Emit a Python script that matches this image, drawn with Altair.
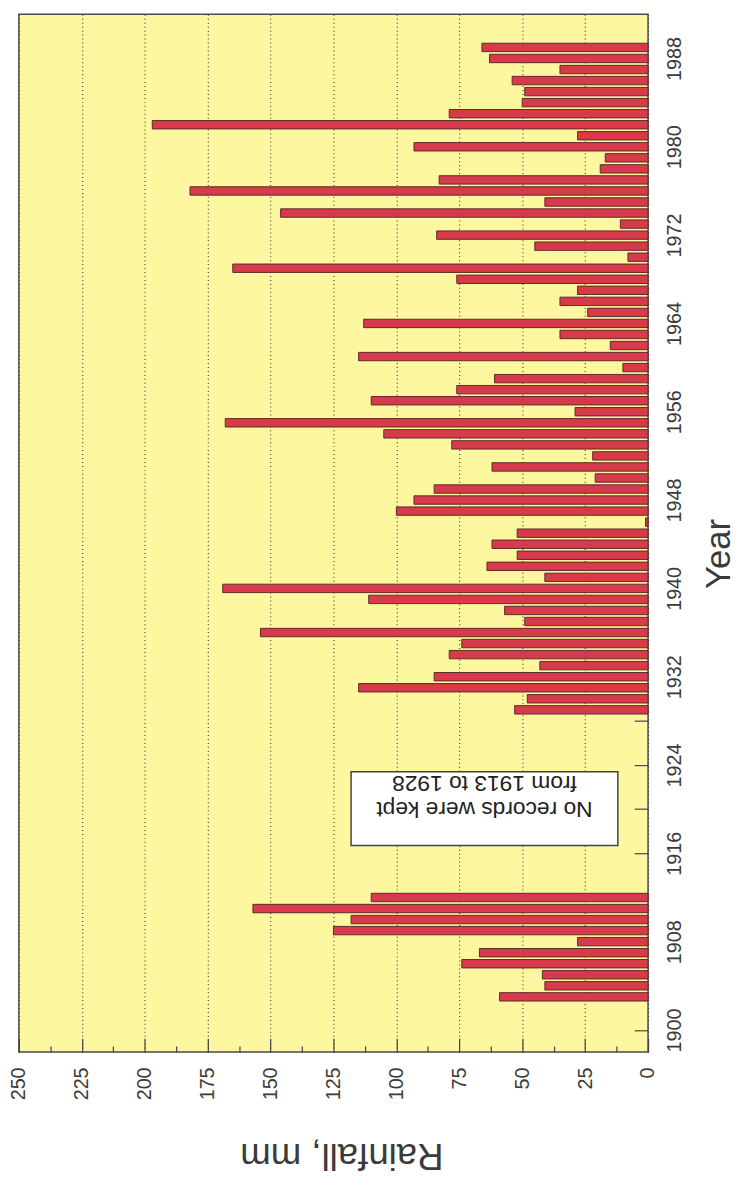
import altair as alt
import pandas as pd

# ---- data ----
years_early = [1903, 1904, 1905, 1906, 1907, 1908, 1909, 1910, 1911, 1912]
rain_early = [59, 41, 42, 74, 67, 28, 125, 118, 157, 110]

years_late = list(range(1929, 1990))
rain_late = [
    53, 48, 115, 85, 43, 79, 74, 154, 49, 57,     # 1929-1938
    111, 169, 41, 64, 52, 62, 52, 1, 100, 93,     # 1939-1948
    85, 21, 62, 22, 78, 105, 168, 29, 110, 76,    # 1949-1958
    61, 10, 115, 15, 35, 113, 24, 35, 28, 76,     # 1959-1968
    165, 8, 45, 84, 11, 146, 41, 182, 83, 19,     # 1969-1978
    17, 93, 28, 197, 79, 50, 49, 54, 35, 63, 66,  # 1979-1989
]

rain_ticks = [0, 25, 50, 75, 100, 125, 150, 175, 200, 225, 250]
rain_minor_ticks = [12.5, 37.5, 62.5, 87.5, 112.5, 137.5, 162.5, 187.5, 212.5, 237.5]
year_ticks = list(range(1900, 1989, 4))
note_lines = ["No records were kept", "from 1913 to 1928"]

df = pd.DataFrame({"year": years_early + years_late, "rain": rain_early + rain_late})

FONT = "Liberation Sans"
TXT = "#3b3b3b"
BAR = "#d73a4a"
BAR_EDGE = "#5e2a2a"

x_scale = alt.Scale(domain=[0, 250], reverse=True, nice=False)
y_scale = alt.Scale(domain=[1898, 1992], nice=False, zero=False)

x_axis_major = alt.Axis(
    orient="bottom", values=rain_ticks, tickSize=14, offset=-14, tickColor="#444",
    tickWidth=1.2, domain=False, grid=True, gridColor="#444", gridDash=[1, 3],
    gridWidth=1.2, labelAngle=270, labelAlign="right", labelBaseline="middle",
    labelPadding=15, labelFontSize=20, labelColor=TXT, labelFont=FONT,
    labelOverlap=False, labelFlush=False, labelBound=False, title="Rainfall, mm",
    titleFont=FONT, titleFontSize=37, titleFontWeight="normal", titleColor=TXT,
    titleAngle=180, titleAlign="center", titleBaseline="middle", titleX=326,
    titleY=117, zindex=0,
)
x_axis_minor = alt.Axis(
    orient="bottom", values=rain_minor_ticks, tickSize=6, offset=-6, tickColor="#444",
    tickWidth=1.2, domain=False, grid=False, labels=False, title=None, zindex=0,
)
y_axis = alt.Axis(
    orient="right", values=year_ticks, format="d",
    labelExpr="datum.value % 8 == 0 ? '' : datum.label",
    tickSize=14, offset=-14, tickColor="#444", tickWidth=1.2, domain=False, grid=False,
    labelAngle=270, labelAlign="center", labelBaseline="top", labelPadding=17,
    labelFontSize=20, labelFont=FONT, labelColor=TXT, labelOverlap=False,
    labelFlush=False, labelBound=False, title="Year", titleFont=FONT, titleFontSize=35,
    titleFontWeight="normal", titleColor=TXT, titleAngle=270, titleAlign="center",
    titleBaseline="middle", titleX=85, titleY=545, zindex=0,
)

base = alt.Chart(df)

bars = base.transform_calculate(
    x0="0", y0="datum.year - 0.38", y1="datum.year + 0.38"
).mark_bar(fill=BAR, stroke=BAR_EDGE, strokeWidth=1).encode(
    x=alt.X("x0:Q", scale=x_scale, axis=x_axis_major),
    x2="rain:Q",
    y=alt.Y("y0:Q", scale=y_scale, axis=y_axis),
    y2="y1:Q",
)

minor = base.mark_point(opacity=0).encode(
    x=alt.X("rain:Q", scale=x_scale, axis=x_axis_minor),
    y=alt.Y("year:Q", scale=y_scale, axis=None),
)

box_df = pd.DataFrame({"bx0": [12], "bx1": [118], "by0": [1916.7], "by1": [1923.4]})
box = alt.Chart(box_df).mark_rect(fill="white", stroke="#444", strokeWidth=1.5).encode(
    x=alt.X("bx0:Q", scale=x_scale, axis=None),
    x2="bx1:Q",
    y=alt.Y("by0:Q", scale=y_scale, axis=None),
    y2="by1:Q",
)

txt_df = pd.DataFrame({"tx": [65], "ty": [1920], "t": ["\n".join(note_lines)]})
note = alt.Chart(txt_df).mark_text(
    angle=180, font=FONT, fontSize=23, color="#222", align="center",
    baseline="middle", lineBreak="\n", lineHeight=27,
).encode(
    x=alt.X("tx:Q", scale=x_scale, axis=None),
    y=alt.Y("ty:Q", scale=y_scale, axis=None),
    text="t:N",
)

chart = alt.layer(bars, minor, box, note).resolve_axis(
    x="independent", y="independent"
).properties(
    width=636, height=1049,
    autosize=alt.AutoSizeParams(type="none"),
    padding={"left": 11, "top": 0, "right": 97, "bottom": 128},
    background="white",
).configure_view(fill="#fdf79f", stroke="#4a4a4a", strokeWidth=1.5)

chart.save("out.html", embed_options={"renderer": "svg", "actions": False})
